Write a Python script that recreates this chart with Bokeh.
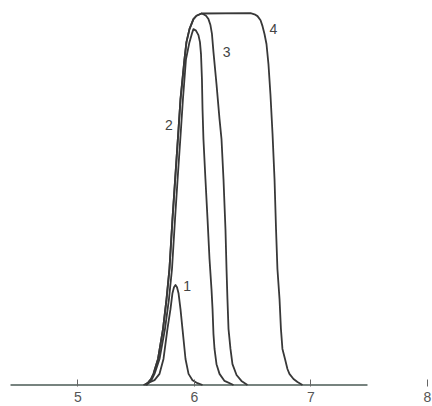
from bokeh.plotting import figure
from bokeh.models import Range1d, FixedTicker
from bokeh.embed import file_html
from bokeh.resources import INLINE
from bokeh.core.properties import value

# ---- data (x: axis units, y: signal, plateau = 100) ----
tick_values = [5, 6, 7, 8]

# peak 1
curve1_x = [5.562, 5.622, 5.657, 5.700, 5.734, 5.768, 5.794, 5.811, 5.824, 5.837,
            5.850, 5.863, 5.880, 5.897, 5.923, 5.949, 5.983, 6.026, 6.069]
curve1_y = [0, 0.8, 1.3, 3.0, 7.0, 15.1, 20.4, 24.7, 26.3, 26.9,
            26.3, 24.7, 20.4, 15.1, 7.0, 3.0, 1.3, 0.5, 0]

# peak 2
curve2_x = [5.588, 5.614, 5.635, 5.657, 5.700, 5.747, 5.781, 5.807, 5.833, 5.858,
            5.884, 5.901, 5.927, 5.957, 5.979, 5.991, 6.013, 6.034, 6.047, 6.056,
            6.064, 6.069, 6.077, 6.094, 6.112, 6.129, 6.146, 6.155, 6.163, 6.172,
            6.189, 6.215, 6.258, 6.335]
curve2_y = [0, 0.8, 1.6, 3.0, 7.0, 15.1, 23.1, 31.2, 44.6, 56.7,
            68.8, 76.9, 87.6, 92.2, 94.6, 95.7, 95.3, 94.1, 92.2, 89.0,
            82.3, 74.2, 66.1, 55.4, 44.6, 33.9, 25.8, 20.4, 13.7, 9.7,
            5.6, 3.0, 1.1, 0]

# common leading edge of peaks 3 and 4
front_x = [5.579, 5.605, 5.627, 5.648, 5.687, 5.730, 5.760, 5.785, 5.811, 5.837,
           5.863, 5.880, 5.914, 5.931, 5.957, 5.991, 6.017, 6.060]
front_y = [0, 0.8, 1.6, 3.0, 7.0, 15.1, 23.1, 31.2, 44.6, 56.7,
           68.8, 76.9, 87.6, 92.2, 95.7, 98.4, 99.3, 99.9]

# trailing edge of peak 3
tail3_x = [6.077, 6.099, 6.120, 6.137, 6.150, 6.163, 6.189, 6.215, 6.232, 6.249,
           6.266, 6.275, 6.283, 6.292, 6.309, 6.326, 6.361, 6.403, 6.455]
tail3_y = [99.7, 99.3, 98.4, 96.8, 94.4, 89.5, 80.9, 71.5, 66.1, 55.4,
           41.9, 31.2, 23.1, 15.1, 9.7, 5.6, 2.7, 1.1, 0]

# plateau and trailing edge of peak 4
tail4_x = [6.481, 6.515, 6.541, 6.567, 6.584, 6.601, 6.618, 6.635, 6.652, 6.670,
           6.687, 6.700, 6.712, 6.730, 6.742, 6.755, 6.777, 6.798, 6.815, 6.850,
           6.884, 6.927]
tail4_y = [100.0, 99.7, 99.2, 98.1, 96.5, 94.4, 91.7, 86.3, 78.2, 67.5,
           55.4, 41.9, 31.2, 23.1, 15.1, 9.7, 7.0, 4.3, 3.0, 1.6,
           0.8, 0]

curve3_x = front_x + tail3_x
curve3_y = front_y + tail3_y
curve4_x = front_x + tail4_x
curve4_y = front_y + tail4_y

label_text = ["1", "2", "3", "4"]
label_x = [5.936, 5.781, 6.275, 6.678]
label_y = [26.6, 69.9, 89.5, 95.7]

baseline_start = 4.421
baseline_end = 7.485

# ---- figure ----
p = figure(width=432, height=406, output_backend="svg", toolbar_location=None,
           x_range=Range1d(4.335, 8.043), y_range=Range1d(-0.4, 103.4),
           y_axis_location=None,
           min_border_left=0, min_border_right=0, min_border_top=0,
           min_border_bottom=20)
p.background_fill_color = "white"
p.border_fill_color = "white"
p.outline_line_color = None
p.xgrid.visible = False
p.ygrid.visible = False

ax = p.xaxis[0]
ax.ticker = FixedTicker(ticks=tick_values)
ax.axis_line_color = None
ax.major_tick_in = 7
ax.major_tick_out = 0
ax.major_tick_line_color = "#666666"
ax.major_tick_line_width = 1
ax.minor_tick_line_color = None
ax.major_label_text_font = "Liberation Sans"
ax.major_label_text_font_size = "14px"
ax.major_label_text_color = "#555555"
ax.major_label_standoff = 5

line_color = "#383838"
p.segment(x0=[baseline_start], y0=[0], x1=[baseline_end], y1=[0],
          line_color="#4a5a55", line_width=1.6)

for xs, ys in [(curve1_x, curve1_y), (curve2_x, curve2_y),
               (curve3_x, curve3_y), (curve4_x, curve4_y)]:
    p.line(xs, ys, line_color=line_color, line_width=1.8, line_join="round")

p.text(x=label_x, y=label_y, text=label_text, text_align="center",
       text_baseline="middle", text_font=value("Liberation Sans"),
       text_font_size="14px", text_color="#444444")

open("out.html", "w").write(file_html(p, INLINE))
